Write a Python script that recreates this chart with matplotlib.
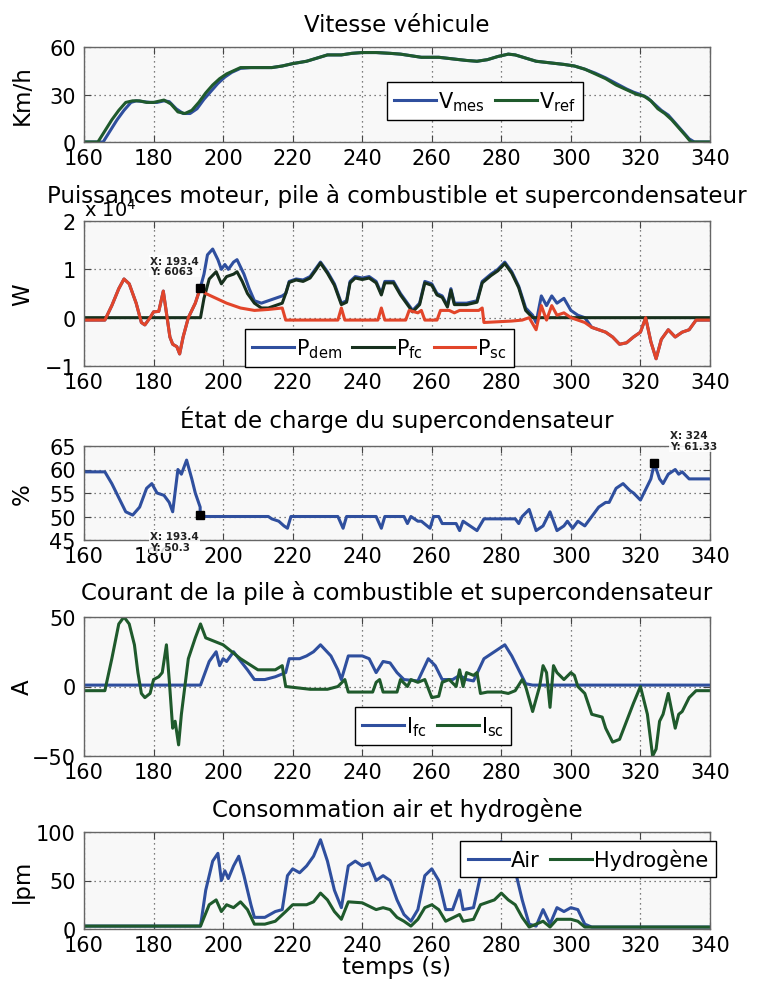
import matplotlib
matplotlib.use("Agg")
import matplotlib.pyplot as plt
import numpy as np

plt.rcParams['font.family'] = ['DejaVu Sans']
plt.rcParams['mathtext.fontset'] = 'dejavusans'

# ---------------- data ----------------
# Vehicle speed (km/h)
t_vref = [160, 164, 166, 168, 170, 172, 174, 176, 178, 180, 182, 183, 185, 187, 189, 191, 193, 195, 197, 199,
          201, 203, 205, 208, 214, 217, 220, 224, 227, 230, 234, 237, 240, 244, 248, 251, 254, 257, 262, 266,
          270, 273, 276, 279, 282, 284, 287, 290, 294, 298, 301, 304, 307, 310, 313, 316, 319, 321, 323, 325,
          327, 329, 331, 333, 334.5, 340]
v_ref = [0, 0, 7, 14, 20, 25, 26, 26, 25, 25, 26, 26.5, 24, 19, 18, 20, 25, 31, 36, 40,
         43, 45, 47, 47, 47, 48, 49.5, 51, 53, 55, 55, 56, 56.5, 56.5, 56, 55.5, 54.5, 53.5, 53.5, 52.5,
         51.5, 51, 52, 54, 55.5, 55, 53, 51, 50, 49, 48, 46, 43, 40, 36, 33, 30, 29, 26, 21,
         18, 14, 9, 4, 0, 0]
t_vmes = [160, 165.5, 167.5, 169.5, 171.5, 173.5, 175, 177, 179, 181, 183, 184.5, 186.5, 188.5, 190.5, 192.5,
          194.5, 196.5, 198.5, 200.5, 202.5, 205, 208, 214, 217, 220, 224, 227, 230, 234, 237, 240, 244, 248,
          251, 254, 257, 262, 266, 270, 273, 276, 279, 282, 284, 287, 290, 294, 298, 301, 304, 307, 310, 313,
          316, 318, 320, 322, 324, 326, 328, 330, 332, 334, 335.5, 340]
v_mes = [0, 0, 7, 14, 20, 25, 26, 25.5, 25, 25, 26, 25.5, 21, 18, 18, 21,
         27, 32, 37, 41, 44, 46.5, 47, 47, 48, 49.5, 51, 53, 55, 55, 56, 56.5, 56.5, 56,
         55.5, 54.5, 53.5, 53.5, 52.5, 51.5, 51, 52, 54, 55.5, 55, 53, 51, 50, 49, 48, 46, 43.5, 40.5, 37,
         33.5, 31.5, 30, 28, 24, 20, 17, 12, 7, 2, 0, 0]

# Powers (W)
t_pdem = [160, 166, 168, 170, 171.5, 173, 175, 176.5, 177.5, 179, 180, 181.5, 182.8, 184.7, 185.5, 186.7,
          187.5, 188.5, 190, 192, 193.4, 194.5, 195.5, 197, 198.5, 199.5, 200.5, 201.5, 203, 204, 205, 206,
          207.5, 209, 211, 213, 215, 217, 218, 219, 221, 223, 225, 226.5, 228, 230, 232, 234, 235.5, 236.5,
          238, 240, 242, 244, 245.5, 246.5, 249, 251, 253, 254.5, 256.5, 258, 260, 261.5, 263, 264.5, 265.5,
          266.5, 270, 273, 274.5, 277, 279, 281, 283, 285, 287, 289, 290, 291.5, 293, 294.5, 296, 298, 300,
          302, 304, 306, 308, 310, 312, 314, 316, 318, 320, 321.5, 323, 324.5, 326, 328, 330, 332, 334, 336,
          340]
p_dem = [-500, -500, 2500, 6000, 8000, 7000, 3000, -1000, -1500, 0, 1200, 1300, 5500, -4000, -5500, -6000,
         -7500, -4000, 0, 3000, 6063, 9000, 13000, 14200, 12000, 10000, 11000, 10000, 11500, 12000, 10500, 9000,
         6000, 3500, 3000, 3500, 4000, 4500, 5000, 7500, 8000, 7800, 8500, 10000, 11500, 9500, 7000, 3000, 3500, 7500,
         8500, 8200, 8500, 7500, 5000, 7500, 7500, 5000, 3000, 1500, 3000, 7500, 7000, 5000, 4500, 2500, 6000,
         3000, 3000, 3500, 7500, 9000, 10000, 11500, 9500, 6500, 2000, 500, -1000, 4500, 2500, 4500, 3000, 4000, 1500,
         500, 0, -2000, -2500, -3000, -4000, -5500, -5200, -4000, -3000, 0, -5000, -8500, -4500, -2500, -4000, -3000,
         -2500, -500, -500]
t_pfc = [160, 193.5, 194.5, 196, 198, 199.5, 201, 203, 204, 205.5, 207, 209, 211, 213, 215, 217, 218, 219, 221,
         223, 225, 226.5, 228, 230, 232, 234, 235.5, 236.5, 238, 240, 242, 244, 245.5, 246.5, 249, 251, 253,
         254.5, 256.5, 258, 260, 261.5, 263, 264.5, 265.5, 266.5, 270, 273, 274.5, 277, 279, 281, 283, 285,
         287, 289, 340]
p_fc = [0, 0, 4000, 8000, 9500, 7000, 8500, 9000, 9500, 7500, 5000, 3000, 2000, 2000, 2500, 3000, 5000, 7300,
        7800, 7500, 8200, 9700, 11300, 9200, 6700, 2700, 3200, 7200, 8200, 7900, 8200, 7200, 4700, 7200, 7200,
        4700, 2700, 1200, 2700, 7200, 6700, 4700, 4200, 2200, 5700, 2700, 2700, 3200, 7200, 8700, 9700, 11200,
        9200, 6200, 1500, 0, 0]
t_psc = [160, 166, 168, 170, 171.5, 173, 175, 176.5, 177.5, 179, 180, 181.5, 182.8, 184.7, 185.5, 186.7,
         187.5, 188.5, 190, 192, 193.4, 195, 198, 201, 205, 209, 213, 217, 218, 233, 234, 235, 244.5, 245.5,
         246.5, 252.5, 253.5, 256, 257, 258, 261.5, 262.5, 265, 266.5, 268, 273.5, 274.5, 275, 283, 286, 288,
         290, 291.5, 293, 294.5, 296, 298, 300, 302, 304, 306, 308, 310, 312, 314, 316, 318, 320, 321.5, 323,
         324.5, 326, 328, 330, 332, 334, 336, 340]
p_sc = [-500, -500, 2500, 6000, 8000, 7000, 3000, -1000, -1500, 0, 1200, 1300, 5500, -4000, -5500, -6000,
        -7500, -4000, 0, 3000, 6063, 5000, 4000, 3000, 2000, 1500, 1700, 2000, -500, -500, 2000, -500, -500, 2000,
        -500, -500, 1500, 1000, 1500, -500, -500, 1500, 1500, 1000, 1500, 1500, 2000, -1000, -700, -500, 0,
        -2500, 2500, -500, 2500, 500, 1000, 0, -500, -1000, -2000, -2500, -3000, -4000, -5500, -5200, -4000, -3000, 0, -5000,
        -8500, -4500, -2500, -4000, -3000, -2500, -500, -500]

# Supercapacitor state of charge (%)
t_soc = [160, 166, 168, 170, 172, 174, 176, 178, 179.5, 181, 183, 184.5, 185.5, 187, 188, 189.5, 191, 192,
         193.4, 193.4, 195, 213, 214, 216, 217.5, 218.5, 219.5, 233, 234.5, 235.5, 244, 245.5, 246.5, 252,
         253, 254, 256, 257, 259.5, 260.5, 262, 263, 267, 268, 269, 271, 273, 275, 284, 285, 286, 288, 290,
         292, 294, 296, 298, 299, 300.5, 302, 304, 306, 308, 310, 311, 313, 315, 317, 318, 320, 321, 323,
         324, 325.5, 326.5, 328, 330, 331, 332, 334, 340]
soc = [59.5, 59.5, 57, 54, 51, 50.3, 52, 56, 57, 55, 54.5, 53, 51, 60, 59, 62, 58, 55,
       52, 50.3, 50, 50, 49.5, 49, 48, 47.5, 50, 50, 47.5, 50, 50, 47.5, 50, 50,
       48.5, 50, 49, 49, 47.5, 50, 50, 48.5, 48.5, 47, 49, 48, 47, 49.5, 49.5, 48.5, 50, 51.5, 47,
       48, 51, 47, 48, 49, 47.5, 49, 48, 50, 52, 53, 53, 56, 57, 55.5, 55, 53.5, 55, 58,
       61.33, 58, 57, 59, 60, 59, 59.5, 58, 58]

# Currents (A)
t_isc = [160, 166, 168, 170, 171.5, 173, 174.5, 175.5, 176.5, 177.5, 179, 180, 181.5, 182.5, 183.7, 184.5,
         185.5, 186.2, 187.2, 188, 189, 190, 192, 193.5, 195, 200, 205, 210, 215, 217, 218, 225, 230, 233,
         235, 236, 243, 244, 245, 246, 250, 251, 253, 254, 256, 258, 260, 262, 263, 265, 267, 268, 269, 270,
         272, 273, 274, 276, 280, 282, 284, 286, 287, 289, 291, 292, 293, 294, 295, 296, 298, 300, 301, 302,
         304, 306, 309, 310, 312, 314, 316, 318, 320, 322, 323.5, 324.5, 325.5, 326.5, 328, 330, 331, 332,
         334, 336, 340]
i_sc = [-3, -3, 20, 45, 50, 45, 30, 10, -5, -8, -5, 5, 7, 10, 30, 5,
        -30, -25, -42, -20, 0, 20, 35, 45, 35, 30, 20, 12, 12, 15, 0, -2, -2, 0,
        5, -4, -4, 3, 5, -4, -4, 5, 0, 5, 3, 5, -8, -7, 3, 5, 0, 12, 0, 10,
        8, 10, -5, -4, -4, -5, -3, 5, 0, -18, 0, 15, 10, -15, 15, 10, 5, 10, 8, 0,
        -5, -20, -22, -30, -40, -38, -25, -12, 0, -20, -50, -45, -25, -20, -5, -30, -20, -18,
        -8, -3, -3]
t_ifc = [160, 193.5, 196, 198, 199, 200, 201, 203, 204.5, 207, 209, 212, 215, 218, 219, 222, 224, 226, 228,
         231, 233, 234, 236, 240, 242, 244, 246, 248, 250, 252, 256, 259, 261, 263, 266, 268, 270, 272, 275,
         278, 281, 283, 285, 287, 289, 340]
i_fc = [1, 1, 18, 25, 15, 20, 18, 25, 20, 12, 5, 5, 7, 10, 20, 20, 22, 25, 30,
        22, 12, 5, 22, 22, 20, 10, 18, 17, 10, 5, 4, 20, 15, 5, 5, 8, 5, 4, 20,
        25, 30, 22, 12, 2, 1, 1]

# Air and hydrogen consumption (lpm)
t_air = [160, 193.5, 195, 197, 198.5, 199.5, 200.5, 201.5, 203, 204.5, 206, 208, 209, 212, 215, 217, 218.5,
         220, 222, 224, 226, 228, 230, 232, 234, 236, 238, 240, 242, 244, 246, 248, 250, 252, 254, 256, 258,
         260, 262, 264, 266, 268, 269, 272, 274, 276, 278, 280, 282, 284, 286, 288, 290, 292, 294, 296, 298,
         300, 302, 304, 306, 340]
air = [3, 3, 40, 70, 78, 50, 60, 52, 65, 75, 55, 25, 12, 12, 18, 20, 55,
       62, 58, 65, 75, 92, 70, 40, 22, 65, 70, 65, 68, 50, 55, 50, 30, 15, 8, 20, 55,
       62, 50, 20, 20, 40, 20, 22, 55, 70, 80, 90, 80, 60, 30, 5, 3, 20, 5, 22, 18,
       22, 20, 5, 2, 2]
t_h2 = [160, 193.5, 196, 198, 199.5, 201, 203, 205, 207, 209, 212, 215, 218, 220, 224, 226, 228, 230, 232,
        234, 236, 240, 244, 246, 248, 250, 252, 254, 256, 258, 260, 262, 264, 268, 269, 272, 274, 278, 280,
        282, 284, 286, 288, 292, 294, 296, 300, 302, 304, 340]
h2 = [3, 3, 25, 30, 18, 25, 22, 28, 20, 5, 5, 8, 18, 25, 25, 28, 37, 30, 18,
      10, 28, 27, 20, 22, 20, 12, 8, 3, 10, 22, 25, 20, 8, 15, 8, 10, 25, 30, 37,
      30, 25, 12, 2, 8, 2, 10, 10, 8, 2, 2]

# ---------------- styling ----------------
BLUE = '#2f4f9e'
GREEN = '#1f5a2c'
DARK = '#17301d'
RED = '#e2452a'
LW = 2.2
TICK = 15
TITLE = 16.5

fig = plt.figure(figsize=(7.74, 9.87), dpi=100)
W, H = 774.0, 987.0
left, right = 84, 710


def make_axes(top, bottom):
    return fig.add_axes([left / W, 1 - bottom / H, (right - left) / W, (bottom - top) / H])


def style(ax, yticks, ylim, title, pad, ylabel):
    ax.set_facecolor('#f8f8f8')
    ax.set_xlim(160, 340)
    ax.set_ylim(*ylim)
    ax.set_xticks(np.arange(160, 341, 20))
    ax.set_yticks(yticks)
    ax.grid(True, linestyle=(0, (1, 3)), color='#555555', linewidth=0.9)
    ax.tick_params(direction='in', top=True, right=True, length=5, labelsize=TICK,
                   color='#444444', pad=4)
    ax.tick_params(axis='y', pad=6)
    for s in ax.spines.values():
        s.set_color('#666666')
        s.set_linewidth(1.0)
    ax.set_title(title, fontsize=TITLE, pad=pad)
    ax.set_ylabel(ylabel, fontsize=TITLE)
    ax.yaxis.set_label_coords(-0.08, 0.5)


def legend(ax, anchor, ncol):
    lg = ax.legend(loc='upper left', bbox_to_anchor=anchor, ncol=ncol, fontsize=15,
                   frameon=True, fancybox=False, framealpha=1, edgecolor='black',
                   handlelength=2.0, handletextpad=0.1, columnspacing=0.5,
                   borderpad=0.35, borderaxespad=0)
    lg.get_frame().set_linewidth(1.0)
    return lg


def datatip(ax, x, y, label, off, ha, va):
    ax.plot([x], [y], marker='s', color='black', markersize=6, zorder=6, clip_on=False)
    ax.annotate(label, (x, y), xytext=off, textcoords='offset pixels', ha=ha, va=va,
                fontsize=7.5, fontweight='bold', color='#222222', linespacing=1.1,
                annotation_clip=False, zorder=7,
                bbox=dict(boxstyle='square,pad=0.1', facecolor='white', edgecolor='none', alpha=0.85))


# Panel 1: vehicle speed
ax1 = make_axes(48, 143)
ax1.plot(t_vmes, v_mes, color=BLUE, lw=LW, label=r'V$_{\mathregular{mes}}$')
ax1.plot(t_vref, v_ref, color=GREEN, lw=LW, label=r'V$_{\mathregular{ref}}$')
style(ax1, [0, 30, 60], (0, 60), 'Vitesse véhicule', 11.5, 'Km/h')
legend(ax1, (0.484, 0.632), 2)

# Panel 2: powers
ax2 = make_axes(222, 367)
ax2.plot(t_pdem, p_dem, color=BLUE, lw=LW, label=r'P$_{\mathregular{dem}}$')
ax2.plot(t_pfc, p_fc, color=DARK, lw=LW, label=r'P$_{\mathregular{fc}}$')
ax2.plot(t_psc, p_sc, color=RED, lw=LW, label=r'P$_{\mathregular{sc}}$')
style(ax2, [-1e4, 0, 1e4, 2e4], (-1e4, 2e4),
      'Puissances moteur, pile à combustible et supercondensateur', 14, 'W')
ax2.set_yticklabels(['\u22121', '0', '1', '2'])
ax2.text(0.0, 1.01, r'x 10$^{\mathregular{4}}$', transform=ax2.transAxes, fontsize=14,
         ha='left', va='bottom')
legend(ax2, (0.257, 0.255), 3)
datatip(ax2, 193.4, 6063, 'X: 193.4\nY: 6063', (-50, 12), 'left', 'bottom')

# Panel 3: state of charge
ax3 = make_axes(447, 541)
ax3.plot(t_soc, soc, color=BLUE, lw=LW)
style(ax3, [45, 50, 55, 60, 65], (45, 65), 'État de charge du supercondensateur', 14, '%')
datatip(ax3, 193.4, 50.3, 'X: 193.4\nY: 50.3', (-50, -16), 'left', 'top')
datatip(ax3, 324, 61.33, 'X: 324\nY: 61.33', (16, 12), 'left', 'bottom')

# Panel 4: currents
ax4 = make_axes(618, 757)
ax4.plot(t_ifc, i_fc, color=BLUE, lw=LW, label=r'I$_{\mathregular{fc}}$')
ax4.plot(t_isc, i_sc, color=GREEN, lw=LW, label=r'I$_{\mathregular{sc}}$')
style(ax4, [-50, 0, 50], (-50, 50), 'Courant de la pile à combustible et supercondensateur', 13, 'A')
legend(ax4, (0.433, 0.353), 2)

# Panel 5: air and hydrogen consumption
ax5 = make_axes(833, 930)
ax5.plot(t_air, air, color=BLUE, lw=LW, label='Air')
ax5.plot(t_h2, h2, color=GREEN, lw=LW, label='Hydrogène')
style(ax5, [0, 50, 100], (0, 100), 'Consommation air et hydrogène', 11.5, 'lpm')
ax5.set_xlabel('temps (s)', fontsize=TITLE, labelpad=0)
legend(ax5, (0.601, 0.907), 2)

fig.savefig('out.png', dpi=100, facecolor='white')
